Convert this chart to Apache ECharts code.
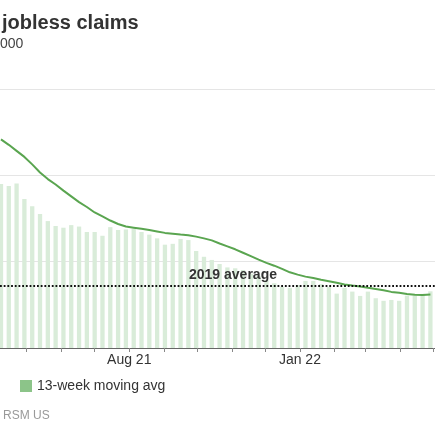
<!DOCTYPE html>
<html>
<head>
<meta charset="utf-8">
<script src="https://cdn.jsdelivr.net/npm/echarts@6/dist/echarts.min.js"></script>
<style>
html, body { margin: 0; padding: 0; background: #fff; }
#chart { width: 435px; height: 435px; }
</style>
</head>
<body>
<div id="chart"></div>
<script>
// weekly report dates (Thursdays)
var weeks = [
  '2021-04-08','2021-04-15','2021-04-22','2021-04-29','2021-05-06','2021-05-13','2021-05-20','2021-05-27',
  '2021-06-03','2021-06-10','2021-06-17','2021-06-24','2021-07-01','2021-07-08','2021-07-15','2021-07-22',
  '2021-07-29','2021-08-05','2021-08-12','2021-08-19','2021-08-26','2021-09-02','2021-09-09','2021-09-16',
  '2021-09-23','2021-09-30','2021-10-07','2021-10-14','2021-10-21','2021-10-28','2021-11-04','2021-11-11',
  '2021-11-18','2021-11-25','2021-12-02','2021-12-09','2021-12-16','2021-12-23','2021-12-30','2022-01-06',
  '2022-01-13','2022-01-20','2022-01-27','2022-02-03','2022-02-10','2022-02-17','2022-02-24','2022-03-03',
  '2022-03-10','2022-03-17','2022-03-24','2022-03-31','2022-04-07','2022-04-14','2022-04-21','2022-04-28'
];
// weekly claims, thousands
var claims = [
  570, 563, 572, 518, 493, 466, 441, 424, 418, 427, 422, 403, 403, 390, 420, 410,
  412, 414, 403, 394, 381, 359, 362, 379, 375, 337, 317, 306, 292, 280, 277, 271,
  258, 250, 236, 225, 213, 209, 219, 233, 233, 222, 212, 189, 209, 196, 181, 196,
  173, 164, 167, 164, 182, 182, 188, 197
];
// 13-week moving average, thousands
var movingAvg = [
  725, 706, 685, 664, 638, 610, 587, 568, 547, 527, 507, 490, 471, 457, 443, 431,
  422, 418, 414, 410, 405, 400, 397, 394, 392, 387, 381, 374, 363, 353, 343, 331,
  319, 307, 296, 286, 275, 263, 255, 248, 243, 237, 232, 227, 221, 217, 214, 209,
  205, 201, 195, 192, 188, 185, 184, 186
];
var avg2019 = 218;

var monthStarts = [
  '2021-04-01','2021-05-01','2021-06-01','2021-07-01','2021-08-01','2021-09-01','2021-10-01',
  '2021-11-01','2021-12-01','2022-01-01','2022-02-01','2022-03-01','2022-04-01','2022-05-01'
];
var labelDates = ['2021-08-01', '2022-01-01'];
var tickLabels = ['Aug 21', 'Jan 22'];

var FONT = '"Liberation Sans", Arial, sans-serif';

function ts(s) {
  var p = s.split('-');
  return Date.UTC(+p[0], +p[1] - 1, +p[2]);
}

var chart = echarts.init(document.getElementById('chart'));

var option = {
  animation: false,
  textStyle: { fontFamily: FONT },
  title: [
    { text: 'jobless claims', left: 2, top: 13, padding: 0,
      textStyle: { fontSize: 20, fontWeight: 'bold', color: '#333', fontFamily: FONT } },
    { text: '000', left: 0, top: 37, padding: 0,
      textStyle: { fontSize: 14, fontWeight: 'normal', color: '#444', fontFamily: FONT } },
    { text: 'RSM US', left: 3, top: 410, padding: 0,
      textStyle: { fontSize: 12, fontWeight: 'normal', color: '#999', fontFamily: FONT } }
  ],
  legend: {
    left: 20, top: 379, padding: 0,
    itemWidth: 12, itemHeight: 12,
    textStyle: { fontSize: 14, color: '#333', fontFamily: FONT },
    data: [{ name: '13-week moving avg', icon: 'rect', itemStyle: { color: '#8cc489' } }]
  },
  grid: { left: 0, right: 0, top: 89, bottom: 87 },
  xAxis: {
    type: 'value',
    min: Date.UTC(2021, 3, 7, 3),
    max: Date.UTC(2022, 4, 2, 3),
    splitLine: { show: false },
    axisLine: { lineStyle: { color: '#666' } },
    axisTick: { customValues: monthStarts.map(ts), length: 4, lineStyle: { color: '#888' } },
    axisLabel: {
      customValues: labelDates.map(ts),
      margin: 5, fontSize: 14, color: '#333', fontFamily: FONT,
      formatter: function (v) {
        var i = labelDates.map(ts).indexOf(v);
        return i >= 0 ? tickLabels[i] : '';
      }
    }
  },
  yAxis: {
    type: 'value', min: 0, max: 900, interval: 300,
    axisLabel: { show: false },
    axisLine: { show: false },
    axisTick: { show: false },
    splitLine: { lineStyle: { color: '#e5e5e5' } }
  },
  series: [
    {
      name: 'Weekly claims',
      type: 'bar',
      barWidth: 4.3,
      itemStyle: { color: '#d9ecd9' },
      data: weeks.map(function (d, i) { return [ts(d), claims[i]]; }),
      markLine: {
        silent: true,
        symbol: 'none',
        label: { show: false },
        lineStyle: { type: [1.8, 1.9], color: '#111', width: 1.8 },
        data: [{ yAxis: avg2019 }]
      }
    },
    {
      name: '13-week moving avg',
      type: 'line',
      showSymbol: false,
      z: 3,
      lineStyle: { width: 2, color: '#5aa550' },
      itemStyle: { color: '#5aa550' },
      data: weeks.map(function (d, i) { return [ts(d), movingAvg[i]]; })
    }
  ],
  graphic: [
    { type: 'text', left: 189, top: 268, z: 100,
      style: { text: '2019 average', font: 'bold 14px "Liberation Sans", Arial, sans-serif', fill: '#333' } }
  ]
};

chart.setOption(option);
</script>
</body>
</html>
